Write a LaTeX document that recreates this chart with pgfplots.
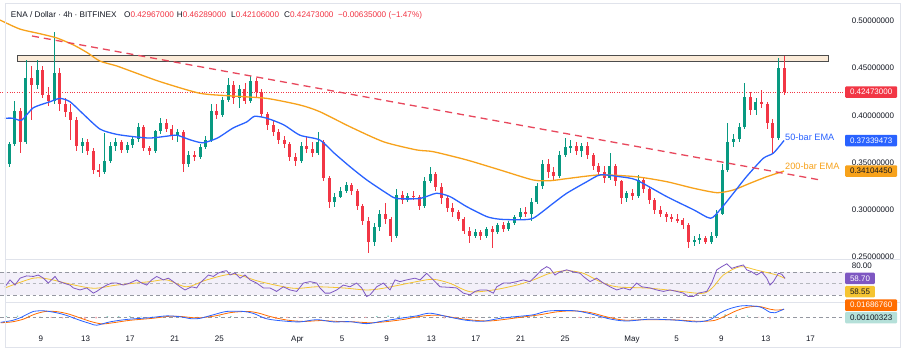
\documentclass[border=0pt]{standalone}
\usepackage{pgfplots}
\pgfplotsset{compat=1.18}
\usepackage{pgfplotstable}
\usepackage{fontspec}
\setmainfont{Liberation Sans}
\definecolor{upc}{HTML}{089981}
\definecolor{dnc}{HTML}{F23645}
\definecolor{emab}{HTML}{2962FF}
\definecolor{emao}{HTML}{F7A21B}
\definecolor{trend}{HTML}{E8475C}
\definecolor{boxfill}{HTML}{FBEBD8}
\definecolor{rsip}{HTML}{7E57C2}
\definecolor{rsiy}{HTML}{F5C431}
\definecolor{macdo}{HTML}{FF6D00}
\definecolor{txt}{HTML}{131722}
\definecolor{sep}{HTML}{E0E3EB}
\definecolor{dashg}{HTML}{9598A1}

\pgfplotstableread{
d o h l c
6.25 0.348 0.372 0.345 0.370
6.75 0.370 0.415 0.368 0.405
7.25 0.405 0.408 0.360 0.372
7.75 0.372 0.459 0.370 0.440
8.25 0.440 0.452 0.395 0.432
8.75 0.432 0.459 0.428 0.448
9.25 0.448 0.452 0.418 0.422
9.75 0.422 0.430 0.410 0.415
10.25 0.415 0.488 0.412 0.445
10.75 0.445 0.450 0.405 0.412
11.25 0.412 0.418 0.398 0.404
11.75 0.404 0.412 0.374 0.395
12.25 0.395 0.398 0.362 0.368
12.75 0.368 0.376 0.360 0.372
13.25 0.372 0.375 0.358 0.362
13.75 0.362 0.365 0.338 0.342
14.25 0.342 0.348 0.335 0.340
14.75 0.340 0.381 0.338 0.352
15.25 0.352 0.372 0.350 0.368
15.75 0.368 0.376 0.362 0.372
16.25 0.372 0.374 0.360 0.363
16.75 0.363 0.372 0.360 0.369
17.25 0.369 0.378 0.365 0.375
17.75 0.375 0.392 0.372 0.388
18.25 0.388 0.390 0.362 0.365
18.75 0.365 0.368 0.358 0.362
19.25 0.362 0.385 0.360 0.383
19.75 0.383 0.397 0.380 0.392
20.25 0.392 0.396 0.382 0.386
20.75 0.386 0.390 0.374 0.378
21.25 0.378 0.386 0.372 0.382
21.75 0.382 0.384 0.340 0.348
22.25 0.348 0.362 0.345 0.358
22.75 0.358 0.362 0.352 0.356
23.25 0.356 0.370 0.354 0.366
23.75 0.366 0.378 0.364 0.374
24.25 0.374 0.412 0.372 0.405
24.75 0.405 0.412 0.396 0.400
25.25 0.400 0.420 0.398 0.416
25.75 0.416 0.440 0.414 0.432
26.25 0.432 0.436 0.412 0.418
26.75 0.418 0.432 0.408 0.428
27.25 0.428 0.434 0.412 0.415
27.75 0.415 0.442 0.413 0.436
28.25 0.436 0.440 0.420 0.425
28.75 0.425 0.428 0.398 0.402
29.25 0.402 0.404 0.385 0.390
29.75 0.390 0.394 0.378 0.382
30.25 0.382 0.386 0.370 0.374
30.75 0.374 0.378 0.365 0.370
31.25 0.370 0.372 0.352 0.356
31.75 0.356 0.360 0.346 0.352
32.25 0.352 0.372 0.350 0.368
32.75 0.368 0.377 0.360 0.364
33.25 0.364 0.372 0.356 0.360
33.75 0.360 0.382 0.358 0.372
34.25 0.372 0.374 0.330 0.334
34.75 0.334 0.336 0.302 0.308
35.25 0.308 0.318 0.303 0.314
35.75 0.314 0.324 0.312 0.320
36.25 0.320 0.329 0.318 0.326
36.75 0.326 0.328 0.316 0.320
37.25 0.320 0.322 0.300 0.304
37.75 0.304 0.306 0.284 0.288
38.25 0.288 0.292 0.254 0.266
38.75 0.266 0.286 0.262 0.282
39.25 0.282 0.300 0.278 0.296
39.75 0.296 0.307 0.285 0.290
40.25 0.290 0.292 0.266 0.272
40.75 0.272 0.322 0.270 0.316
41.25 0.316 0.320 0.306 0.310
41.75 0.310 0.318 0.308 0.315
42.25 0.315 0.320 0.310 0.314
42.75 0.314 0.316 0.300 0.304
43.25 0.304 0.335 0.302 0.330
43.75 0.330 0.345 0.328 0.338
44.25 0.338 0.340 0.320 0.324
44.75 0.324 0.328 0.306 0.312
45.25 0.312 0.316 0.298 0.302
45.75 0.302 0.307 0.292 0.298
46.25 0.298 0.300 0.288 0.290
46.75 0.290 0.292 0.274 0.278
47.25 0.278 0.282 0.265 0.272
47.75 0.272 0.280 0.270 0.276
48.25 0.276 0.279 0.268 0.272
48.75 0.272 0.282 0.270 0.280
49.25 0.280 0.283 0.260 0.276
49.75 0.276 0.286 0.274 0.284
50.25 0.284 0.287 0.276 0.280
50.75 0.280 0.288 0.278 0.286
51.25 0.286 0.294 0.284 0.292
51.75 0.292 0.302 0.290 0.298
52.25 0.298 0.303 0.292 0.296
52.75 0.296 0.312 0.288 0.308
53.25 0.308 0.328 0.306 0.325
53.75 0.325 0.353 0.322 0.348
54.25 0.348 0.354 0.334 0.340
54.75 0.340 0.345 0.330 0.336
55.25 0.336 0.362 0.334 0.358
55.75 0.358 0.376 0.356 0.366
56.25 0.366 0.374 0.360 0.368
56.75 0.368 0.372 0.358 0.362
57.25 0.362 0.371 0.356 0.368
57.75 0.368 0.372 0.354 0.358
58.25 0.358 0.360 0.342 0.346
58.75 0.346 0.350 0.336 0.340
59.25 0.340 0.346 0.328 0.334
59.75 0.334 0.360 0.332 0.346
60.25 0.346 0.348 0.325 0.330
60.75 0.330 0.332 0.306 0.312
61.25 0.312 0.320 0.308 0.318
61.75 0.318 0.322 0.310 0.315
62.25 0.315 0.337 0.313 0.332
62.75 0.332 0.334 0.318 0.322
63.25 0.322 0.324 0.306 0.310
63.75 0.310 0.312 0.296 0.300
64.25 0.300 0.304 0.292 0.296
64.75 0.296 0.298 0.287 0.292
65.25 0.292 0.296 0.287 0.290
65.75 0.290 0.296 0.286 0.289
66.25 0.289 0.291 0.280 0.284
66.75 0.284 0.286 0.260 0.266
67.25 0.266 0.272 0.262 0.268
67.75 0.268 0.274 0.264 0.270
68.25 0.270 0.272 0.264 0.266
68.75 0.266 0.276 0.264 0.272
69.25 0.272 0.300 0.270 0.296
69.75 0.296 0.348 0.294 0.342
70.25 0.342 0.392 0.340 0.372
70.75 0.372 0.380 0.366 0.375
71.25 0.375 0.392 0.372 0.388
71.75 0.388 0.434 0.386 0.420
72.25 0.420 0.425 0.400 0.406
72.75 0.406 0.418 0.400 0.414
73.25 0.414 0.427 0.408 0.412
73.75 0.412 0.414 0.386 0.392
74.25 0.392 0.396 0.360 0.376
74.75 0.376 0.461 0.374 0.450
75.25 0.450 0.4629 0.4211 0.4247
}\candles

\pgfplotstableread{
d v
5.88 0.397
6.6 0.397
7.37 0.395
8.4 0.408
9.9 0.4145
10.78 0.418
11.67 0.4145
12.8 0.402
14.34 0.3855
15.8 0.380
17.3 0.3775
18.8 0.376
20.3 0.378
21.2 0.379
22.4 0.374
23.5 0.371
24.8 0.376
26.2 0.3867
27.4 0.393
28.1 0.399
29.2 0.397
30.7 0.390
32.15 0.379
33.9 0.374
35.2 0.360
36.6 0.3457
38.1 0.3316
39.87 0.3175
40.76 0.312
42.84 0.312
44.3 0.3175
45.5 0.314
47.0 0.3033
48.8 0.2927
49.96 0.290
51.5 0.2895
52.9 0.291
54.7 0.3069
55.9 0.3175
57.7 0.3298
58.9 0.337
60.65 0.335
62.1 0.3316
64.8 0.314
67.2 0.300
68.7 0.291
69.55 0.300
70.74 0.3175
71.9 0.335
73.4 0.3545
74.3 0.360
75.25 0.3734
}\emafifty

\pgfplotstableread{
d v
5.44 0.501
7.2 0.4915
9.0 0.4865
10.5 0.482
12.0 0.4745
13.2 0.4665
14.34 0.4575
15.8 0.4525
17.3 0.446
19.7 0.4357
23.25 0.4234
26.2 0.4205
29.2 0.418
32.15 0.411
33.9 0.404
36.6 0.388
39.6 0.372
42.54 0.3634
44.0 0.3616
47.0 0.3528
49.96 0.3422
52.9 0.3316
54.4 0.3308
55.9 0.333
58.9 0.337
62.1 0.335
64.8 0.3298
67.2 0.3228
69.3 0.3181
70.74 0.321
72.2 0.328
73.7 0.335
75.25 0.3410
}\ematwohundred

\pgfplotstableread{
d v
5.88 44
6.33 56
6.77 47
7.22 59
7.81 63
8.41 62
8.85 64.5
9.3 59
9.74 50.5
10.34 62
10.63 54
11.08 50.5
11.67 47
11.97 42
12.56 38.5
13.16 42
13.75 33
14.05 36
14.49 42
14.94 47
15.38 50.5
15.83 50.5
16.42 47
17.0 50.5
17.61 56
18.05 50.5
18.5 47
18.94 56
19.39 62
19.98 56
20.43 59
20.87 53
21.47 44
21.91 38.5
22.5 44
22.95 42
23.25 50.5
23.55 56
23.99 64.5
24.44 62
24.88 68
25.33 71
25.62 72
25.92 64.5
26.36 68
26.81 59
27.25 64.5
27.7 56
28.29 50.5
28.89 42
29.48 42
30.07 36
30.67 44
31.26 38.5
31.86 36
32.45 50.5
33.04 53
33.64 50.5
33.93 42
34.38 33
34.82 33
35.42 38.5
36.01 47
36.6 44
37.2 50.5
37.64 42
38.09 27
38.39 30
38.98 44
39.57 50.5
40.17 38.5
40.61 56
41.06 53
41.65 56
42.39 59
42.84 56
43.43 67.5
44.02 56
44.62 44
45.51 43
46.1 42
46.7 33
47.29 30
47.74 36
48.18 38.5
48.78 38.5
49.37 33
49.67 44
50.26 50.5
50.85 50.5
51.45 53
52.04 56
52.63 53
53.23 64.5
53.67 73.5
54.12 79
54.41 76
54.86 64.5
55.3 70
55.9 73.5
56.49 70
57.09 67.5
57.38 62
57.98 53
58.57 59
59.16 50.5
59.76 44
60.35 38.5
60.94 42
61.54 38.5
62.13 50.5
62.58 44
63.32 42
63.91 38.5
64.51 36
65.1 38.5
65.69 36
66.29 33
66.73 27
67.18 27
67.62 33
68.37 36
68.81 50.5
69.26 73.5
69.7 79
70.15 84
70.59 76
71.04 79
71.63 82
71.93 73.5
72.37 70
72.82 64.5
73.26 70
73.71 59
74.0 47
74.3 53
74.75 67.5
75.04 66
75.34 58.7
}\rsi

\pgfplotstableread{
d v
5.88 42
8.41 59
9.89 57
11.37 50
13.75 41.5
15.83 47
18.8 53
20.28 56
22.06 44
23.84 56
26.21 66
28.59 53
31.56 41.5
33.64 44
36.0 42
38.09 38.5
39.57 41.5
42.54 53
44.02 57
45.51 50
47.29 35.5
49.37 38.5
51.45 47
52.93 56
54.41 67.5
55.9 72
57.38 67.5
58.87 53
60.35 44
63.32 41.5
66.29 35.5
68.07 32.7
68.96 44
69.85 64.5
71.33 79
72.82 73
74.6 64.5
75.34 58.55
}\rsima

\pgfplotstableread{
d v
5.5 -0.012
5.88 -0.0105
6.5 -0.008
7.22 -0.002
8.0 0.008
8.41 0.0125
9.3 0.014
10.48 0.0095
11.37 0.0035
12.56 -0.0075
13.5 -0.015
14.05 -0.0185
15.23 -0.011
16.72 -0.0055
18.8 -0.0015
20.28 0.0025
21.47 0.0005
22.5 -0.004
23.25 -0.003
24.44 0.005
25.62 0.0125
27.1 0.0125
28.0 0.008
29.18 -0.004
30.67 -0.009
32.15 -0.011
33.64 -0.006
35.12 -0.011
36.6 -0.0105
38.09 -0.015
39.57 -0.009
41.06 -0.003
42.54 0.0025
43.73 0.0085
45.51 -0.0005
47.0 -0.0075
48.48 -0.0095
49.96 -0.003
51.45 0.001
52.93 0.005
54.12 0.013
55.6 0.0148
56.79 0.0135
57.98 0.0075
59.76 -0.0045
61.24 -0.009
63.32 -0.005
65.69 -0.0072
67.47 -0.011
68.66 -0.006
69.55 0.009
70.45 0.019
71.63 0.0255
73.12 0.0225
74.0 0.0105
74.45 0.0095
75.25 0.0179
}\macd

\pgfplotstableread{
d v
5.5 -0.013
6.5 -0.011
7.5 -0.005
8.5 0.006
9.5 0.0125
10.5 0.012
11.5 0.007
12.56 -0.002
13.5 -0.010
14.5 -0.0155
15.5 -0.013
17.0 -0.0075
19.0 -0.003
20.5 0.0015
21.5 0.0012
23.0 -0.002
24.5 0.002
26.0 0.010
27.5 0.0125
28.5 0.0085
29.5 0.001
31.0 -0.007
32.5 -0.010
34.0 -0.008
35.5 -0.010
37.0 -0.011
38.5 -0.013
40.0 -0.010
41.5 -0.005
43.0 0.002
44.5 0.004
46.0 -0.002
47.5 -0.007
49.0 -0.009
50.5 -0.005
52.0 0.0
53.5 0.005
55.0 0.0115
56.5 0.0138
58.0 0.010
59.5 0.0
61.0 -0.007
63.0 -0.006
65.5 -0.0065
67.5 -0.0095
69.0 -0.008
70.0 0.002
71.0 0.014
72.0 0.022
73.0 0.0238
74.0 0.0175
74.5 0.0155
75.25 0.0169
}\signal

\pgfplotsset{panel/.style={
  scale only axis, anchor=south west, width=845pt,
  xmin=5.438, xmax=80.68,
  axis line style={draw=none}, major tick length=0pt,
  yticklabel pos=right, clip=false,
  yticklabel style={font=\fontsize{8}{9}\selectfont, text=txt, anchor=west, inner sep=0pt, xshift=6.6pt},
  xticklabel style={font=\fontsize{8}{9}\selectfont, text=txt, yshift=-4.5pt},
},
candle/.style={draw=none, mark=none, forget plot, error bars/.cd, y dir=both, y explicit, error mark=none,
  error bar style={line width=#1}}
}
\tikzset{pricebox/.style={anchor=west, font=\fontsize{8}{9}\selectfont, inner xsep=4.8pt, inner ysep=0pt, minimum height=11.5pt, rounded corners=1pt}}

\begin{document}
\begin{tikzpicture}
\useasboundingbox (0,0) rectangle (903pt,352pt);
\fill[white] (0,0) rectangle (903pt,352pt);

% ---------------- main price panel
\begin{axis}[panel, at={(0pt,93pt)}, height=259pt,
  ymin=0.24788, ymax=0.52225,
  xtick=\empty,
  ytick={0.25,0.3,0.35,0.4,0.45,0.5},
  yticklabels={0.25000000,0.30000000,0.35000000,0.40000000,0.45000000,0.50000000}]
\draw[black!70, line width=0.9pt, fill=boxfill] (axis cs:6.95,0.4576) rectangle (axis cs:79.17,0.464);
\draw[dnc, line width=0.6pt, dash pattern=on 0.8pt off 1.6pt] (axis cs:5.438,0.42473) -- (axis cs:80.68,0.42473);
% wicks
\addplot[candle=0.9pt, error bar style={draw=upc}]
  table[x=d, y expr={(\thisrow{h}+\thisrow{l})/2}, y error expr={(\thisrow{c}>\thisrow{o})*(\thisrow{h}-\thisrow{l})/2}] {\candles};
\addplot[candle=0.9pt, error bar style={draw=dnc}]
  table[x=d, y expr={(\thisrow{h}+\thisrow{l})/2}, y error expr={(\thisrow{o}>\thisrow{c})*(\thisrow{h}-\thisrow{l})/2}] {\candles};
% bodies
\addplot[candle=3pt, error bar style={draw=upc}]
  table[x=d, y expr={(\thisrow{o}+\thisrow{c})/2}, y error expr={max(\thisrow{c}-\thisrow{o},0)/2}] {\candles};
\addplot[candle=3pt, error bar style={draw=dnc}]
  table[x=d, y expr={(\thisrow{o}+\thisrow{c})/2}, y error expr={max(\thisrow{o}-\thisrow{c},0)/2}] {\candles};
% EMAs
\addplot[emao, line width=1.3pt, smooth, tension=0.4] table[x=d, y=v] {\ematwohundred};
\addplot[emab, line width=1.3pt, smooth, tension=0.4] table[x=d, y=v] {\emafifty};
% trend line
\addplot[trend, line width=1.3pt, dash pattern=on 7pt off 5pt] coordinates {(8.29,0.4841) (78.46,0.3316)};
\node[anchor=west, font=\fontsize{9.2}{10}\selectfont, text=emab, inner sep=0pt] at (axis cs:75.34,0.3774) {50-bar EMA};
\node[anchor=west, font=\fontsize{9.2}{10}\selectfont, text=emao, inner sep=0pt] at (axis cs:75.34,0.3457) {200-bar EMA};
\coordinate (bR) at (axis cs:80.68,0.42473);
\coordinate (bB) at (axis cs:80.68,0.37339);
\coordinate (bO) at (axis cs:80.68,0.34104);
\end{axis}

\fill[white] (0,50pt) rectangle (903pt,92.5pt);

% ---------------- RSI panel
\begin{axis}[panel, at={(0pt,50pt)}, height=43pt,
  ymin=17.57, ymax=92.35, xtick=\empty,
  ytick={80}, yticklabels={80.00}]
\fill[rsip!9] (axis cs:5.438,30) rectangle (axis cs:80.68,70);
\draw[dashg, line width=0.6pt, dash pattern=on 3.5pt off 3pt] (axis cs:5.438,70) -- (axis cs:80.68,70);
\draw[dashg!70, line width=0.6pt, dash pattern=on 3.5pt off 3pt] (axis cs:5.438,50) -- (axis cs:80.68,50);
\draw[dashg, line width=0.6pt, dash pattern=on 3.5pt off 3pt] (axis cs:5.438,30) -- (axis cs:80.68,30);
\addplot[rsiy, line width=0.8pt, smooth, tension=0.5] table[x=d, y=v] {\rsima};
\addplot[rsip, line width=0.8pt] table[x=d, y=v] {\rsi};
\coordinate (bP) at (axis cs:80.68,58.7);
\coordinate (bY) at (axis cs:80.68,35.5);
\end{axis}

% ---------------- MACD panel
\begin{axis}[panel, at={(0pt,24pt)}, height=26pt,
  ymin=-0.02475, ymax=0.03375, ytick=\empty,
  xtick={9.080,13.053,17.025,20.998,24.970,31.922,35.895,39.867,43.840,47.812,51.785,55.757,61.716,65.688,69.661,73.633,77.606},
  xticklabels={9,13,17,21,25,Apr,5,9,13,17,21,25,May,5,9,13,17}]
\draw[dashg, line width=0.6pt, dash pattern=on 3.5pt off 3pt] (axis cs:5.438,0) -- (axis cs:80.68,0);
\addplot[ybar, bar shift=0pt, bar width=1.4pt, fill=upc!45, draw=none] coordinates {
(6,0.002) (7,0.003) (8,0.003) (9,0.001) (15,0.002) (16,0.002) (17,0.002) (18,0.001) (19,0.001) (20,0.001)
(24,0.002) (25,0.003) (26,0.002) (27,0.0005) (33,0.001) (36,0.0005) (39,0.002) (40,0.003) (41,0.003) (42,0.003)
(43,0.002) (49,0.001) (50,0.002) (51,0.002) (52,0.002) (53,0.003) (54,0.002) (55,0.001) (62,0.001) (63,0.001)
(68,0.001) (69,0.004) (70,0.006) (71,0.005) (72,0.003) (75,0.001)};
\addplot[ybar, bar shift=0pt, bar width=1.4pt, fill=dnc!45, draw=none] coordinates {
(10,-0.002) (11,-0.003) (12,-0.004) (13,-0.004) (14,-0.003) (21,-0.001) (22,-0.002) (23,-0.001) (28,-0.001)
(29,-0.004) (30,-0.004) (31,-0.002) (32,-0.001) (34,-0.0005) (35,-0.001) (37,-0.001) (38,-0.002) (44,-0.001)
(45,-0.003) (46,-0.003) (47,-0.002) (48,-0.001) (57,-0.002) (58,-0.003) (59,-0.003) (60,-0.003) (61,-0.002)
(64,-0.0005) (66,-0.001) (67,-0.001) (73,-0.001) (74,-0.005)};
\addplot[macdo, line width=0.8pt, smooth, tension=0.5] table[x=d, y=v] {\signal};
\addplot[emab, line width=0.8pt, smooth, tension=0.5] table[x=d, y=v] {\macd};
\coordinate (bMO) at (axis cs:80.68,0.0265);
\coordinate (bMT) at (axis cs:80.68,-0.0015);
\end{axis}

% frame and separators
\draw[sep, line width=0.8pt] (5pt,5pt) rectangle (900pt,349pt);
\draw[sep, line width=0.8pt] (5pt,92.5pt) -- (900pt,92.5pt);
\draw[sep, line width=0.8pt] (5pt,50pt) -- (900pt,50pt);

% price boxes
\node[pricebox, fill=dnc, text=white] at (bR) {0.42473000};
\node[pricebox, fill=emab, text=white] at (bB) {0.37339473};
\node[pricebox, fill=emao, text=txt] at (bO) {0.34104450};
\node[pricebox, fill=rsip, text=white] at (bP) {58.70};
\node[pricebox, fill=rsiy, text=txt] at (bY) {58.55};
\node[pricebox, fill=macdo, text=white] at (bMO) {0.01686760};
\node[pricebox, fill=upc!30, text=txt] at (bMT) {0.00100323};

% header
\begin{scope}[every node/.style={anchor=base west, inner sep=0pt, font=\fontsize{8.2}{9}\selectfont, text=txt}]
\node at (10.7pt,334pt) {ENA / Dollar · 4h · BITFINEX};
\node at (124pt,334pt) {O\textcolor{dnc}{0.42967000}};
\node at (176.7pt,334pt) {H\textcolor{dnc}{0.46289000}};
\node at (231pt,334pt) {L\textcolor{dnc}{0.42106000}};
\node at (284pt,334pt) {C\textcolor{dnc}{0.42473000}};
\node at (338pt,334pt) {\textcolor{dnc}{−0.00635000 (−1.47\%)}};
\end{scope}
\end{tikzpicture}
\end{document}
